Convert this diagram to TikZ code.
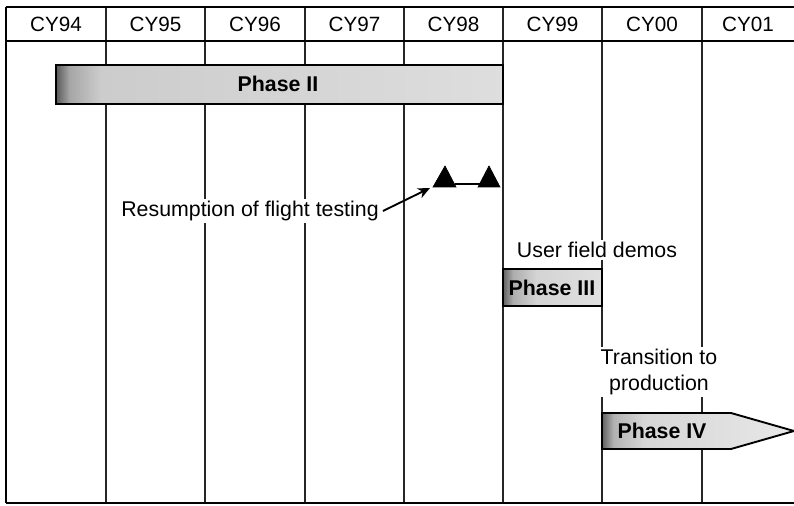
\documentclass[tikz,border=0pt]{standalone}
\usepackage{fontspec}
\setmainfont{Liberation Sans}
\usetikzlibrary{arrows.meta}
\pgfdeclarehorizontalshading{shadeII}{100bp}{color(0bp)=(black!65); color(25bp)=(black!65); color(26.5bp)=(black!35); color(30bp)=(black!20); color(75bp)=(black!13); color(100bp)=(black!13)}
\pgfdeclarehorizontalshading{shadeIII}{100bp}{color(0bp)=(black!62); color(25bp)=(black!62); color(30bp)=(black!32); color(42bp)=(black!17); color(75bp)=(black!12); color(100bp)=(black!12)}
\pgfdeclarehorizontalshading{shadeIV}{100bp}{color(0bp)=(black!62); color(25bp)=(black!62); color(28bp)=(black!30); color(36bp)=(black!16); color(75bp)=(black!9); color(100bp)=(black!9)}
\tikzset{
  grid/.style={line width=1.1pt, black!85},
  frame/.style={line width=1.8pt, black},
  yearlbl/.style={font=\fontsize{15.5}{18}\selectfont, inner sep=0pt},
  lbl/.style={font=\fontsize{16}{19}\selectfont, fill=white, inner sep=1.5pt, align=center},
  phaselbl/.style={font=\fontsize{16}{19}\selectfont\bfseries, inner sep=0pt},
  bar/.style={draw=black, line width=1.4pt},
  tri/.style={fill=black, draw=black, line width=0.5pt},
}
\begin{document}
\begin{tikzpicture}[x=0.75pt,y=-0.75pt]
\useasboundingbox (0,0) rectangle (794,506);
% vertical grid lines
\foreach \xx in {106,205,305,404,503,602,702}{
  \draw[grid] (\xx,7) -- (\xx,503);
}
% frame
\draw[frame] (6,7) -- (800,7);
\draw[frame] (6,41) -- (800,41);
\draw[frame] (6,503) -- (800,503);
\draw[line width=1.5pt] (6,7) -- (6,503);
% year labels
\node[yearlbl] (y94) at (56,24) {CY94};
\node[yearlbl] (y95) at (155.5,24) {CY95};
\node[yearlbl] (y96) at (255,24) {CY96};
\node[yearlbl] (y97) at (354.5,24) {CY97};
\node[yearlbl] (y98) at (453.5,24) {CY98};
\node[yearlbl] (y99) at (552.5,24) {CY99};
\node[yearlbl] (y00) at (652,24) {CY00};
\node[yearlbl] (y01) at (748,24) {CY01};
% Phase II
\draw[bar, shading=shadeII] (56,65) rectangle (503,104);
\node[phaselbl] (p2) at (278,84) {Phase II};
% flight testing triangles
\fill[tri] (433,187) -- (445,166) -- (456,187) -- cycle;
\fill[tri] (478,187) -- (489,166) -- (500,187) -- cycle;
\draw[line width=1.8pt] (455,184) -- (480,184);
\coordinate (tip) at (430,188);
\node[lbl] (resume) at (250,211) {Resumption of flight testing};
\draw[line width=1.4pt, -{Stealth[length=9pt,width=8pt]}] (resume.east) ++(2,0) -- (tip);
% Phase III
\node[lbl] (user) at (597,250) {User field demos};
\draw[bar, shading=shadeIII] (503,269) rectangle (602,306);
\node[phaselbl] (p3) at (552,288) {Phase III};
% Phase IV
\node[lbl] (trans) at (659,372) {Transition to\\production};
\draw[bar, shading=shadeIV] (602,413) -- (731,413) -- (794,431) -- (731,449) -- (602,449) -- cycle;
\node[phaselbl] (p4) at (662,431) {Phase IV};
\end{tikzpicture}
\end{document}
